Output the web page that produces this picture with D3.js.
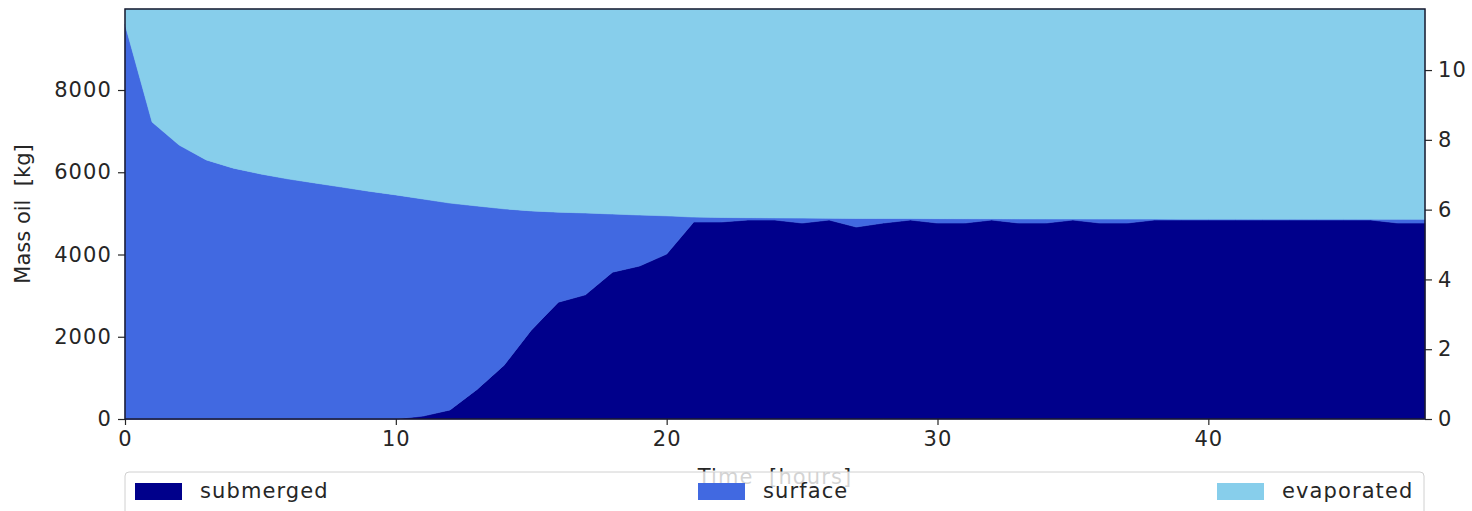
<!DOCTYPE html>
<html>
<head>
<meta charset="utf-8">
<script src="https://cdn.jsdelivr.net/npm/d3@7"></script>
<style>
  html, body { margin: 0; padding: 0; background: #fff; }
  svg { display: block; font-family: "DejaVu Sans", sans-serif; }
  text { white-space: pre; }
</style>
</head>
<body>
<svg id="chart" width="1472" height="511"></svg>
<script>
// ---- data ----
const hours = [0,1,2,3,4,5,6,7,8,9,10,11,12,13,14,15,16,17,18,19,20,21,22,23,24,25,26,27,28,29,30,31,32,33,34,35,36,37,38,39,40,41,42,43,44,45,46,47,48];
const submerged = [0,0,0,0,0,0,0,0,0,0,0,70,220,720,1310,2160,2840,3020,3570,3720,4010,4790,4790,4838,4838,4765,4838,4668,4765,4838,4765,4765,4838,4765,4765,4838,4765,4765,4838,4838,4838,4838,4838,4838,4838,4838,4838,4765,4765];
const surface = [9600,7220,6660,6300,6100,5960,5840,5740,5640,5540,5450,5280,5030,4460,3800,2900,2190,1990,1415,1240,930,120,110,57,52,120,42,210,111,36,107,105,30,101,100,26,98,97,23,22,22,22,21,21,20,20,19,91,90];
const evaporated = [370,2750,3310,3670,3870,4010,4130,4230,4330,4430,4520,4620,4720,4790,4860,4910,4940,4960,4985,5010,5030,5060,5070,5075,5080,5085,5090,5092,5094,5096,5098,5100,5102,5104,5105,5106,5107,5108,5109,5110,5110,5110,5111,5111,5112,5112,5113,5114,5115];
const seriesNames = ["submerged", "surface", "evaporated"];
const seriesColors = ["#00008b", "#4169e1", "#87ceeb"];
const xTicks = [0,10,20,30,40];
const yTicksLeft = [0,2000,4000,6000,8000];
const yTicksRight = [0,2,4,6,8,10];
const xLabel = "Time  [hours]";
const yLabel = "Mass oil  [kg]";

// ---- layout ----
const L = 125, R = 1425, T = 9, B = 419;
const svg = d3.select("#chart");
const fontSize = 21;
const spacing = "1.1px";
const textColor = "#262626";

const x = d3.scaleLinear().domain([0, 48]).range([L, R]);
const y = d3.scaleLinear().domain([0, 9970]).range([B, T]);
const y2 = d3.scaleLinear().domain([0, 11.75]).range([B, T]);

const rows = hours.map((h, i) => ({
  t: h, submerged: submerged[i], surface: surface[i], evaporated: evaporated[i]
}));
const stacked = d3.stack().keys(seriesNames)(rows);

const area = d3.area()
  .x(d => x(d.data.t))
  .y0(d => y(d[0]))
  .y1(d => y(d[1]));

svg.append("g").selectAll("path")
  .data(stacked)
  .join("path")
  .attr("d", area)
  .attr("fill", (d, i) => seriesColors[i])
  .attr("stroke", (d, i) => seriesColors[i])
  .attr("stroke-width", 0.6);

// axes
const xAxis = svg.append("g").attr("transform", `translate(0,${B})`)
  .call(d3.axisBottom(x).tickValues(xTicks).tickSize(6).tickPadding(6).tickFormat(d3.format("d")));
const yAxis = svg.append("g").attr("transform", `translate(${L},0)`)
  .call(d3.axisLeft(y).tickValues(yTicksLeft).tickSize(7).tickPadding(6).tickFormat(d3.format("d")));
const y2Axis = svg.append("g").attr("transform", `translate(${R},0)`)
  .call(d3.axisRight(y2).tickValues(yTicksRight).tickSize(7).tickPadding(6).tickFormat(d3.format("d")));

[xAxis, yAxis, y2Axis].forEach(g => {
  g.select(".domain").remove();
  g.selectAll(".tick line").attr("stroke", textColor).attr("stroke-width", 1.2);
  g.selectAll(".tick text").attr("fill", textColor).style("font-size", fontSize + "px")
    .style("letter-spacing", spacing)
    .style("font-family", "DejaVu Sans, sans-serif");
});

// frame
svg.append("rect")
  .attr("x", L).attr("y", T).attr("width", R - L).attr("height", B - T)
  .attr("fill", "none").attr("stroke", "#1a1a2e").attr("stroke-width", 1.5);

// axis labels
svg.append("text")
  .attr("transform", `translate(30,${(T + B) / 2}) rotate(-90)`)
  .attr("text-anchor", "middle")
  .attr("fill", textColor)
  .style("font-size", fontSize + "px")
  .text(yLabel);

svg.append("text")
  .attr("x", (L + R) / 2).attr("y", 484)
  .attr("text-anchor", "middle")
  .attr("fill", textColor)
  .style("font-size", fontSize + "px")
  .style("letter-spacing", spacing)
  .text(xLabel);

// legend
const lg = svg.append("g");
lg.append("rect")
  .attr("x", L).attr("y", 472).attr("width", R - L - 1).attr("height", 60)
  .attr("rx", 4)
  .attr("fill", "#fff").attr("fill-opacity", 0.8)
  .attr("stroke", "#d0d0d0").attr("stroke-width", 1);

const entryX = [135, 698, 1217];
seriesNames.forEach((name, i) => {
  lg.append("rect")
    .attr("x", entryX[i]).attr("y", 483).attr("width", 47).attr("height", 17)
    .attr("fill", seriesColors[i]);
  lg.append("text")
    .attr("x", entryX[i] + 65).attr("y", 498)
    .attr("fill", textColor)
    .style("font-size", fontSize + "px")
    .style("letter-spacing", spacing)
    .text(name);
});
</script>
</body>
</html>
